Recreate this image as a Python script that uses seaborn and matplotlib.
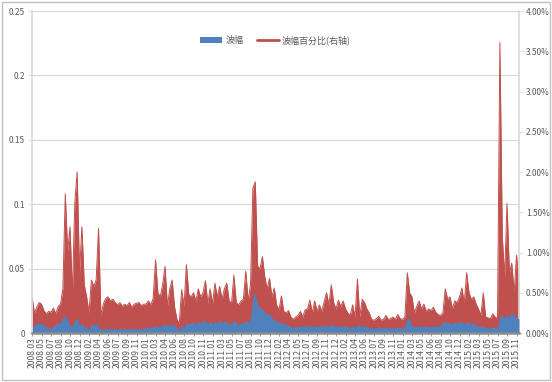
import numpy as np
import pandas as pd
import matplotlib
matplotlib.use("Agg")
import matplotlib.pyplot as plt
import seaborn as sns
from matplotlib.patches import Patch, Rectangle
from matplotlib.lines import Line2D
from matplotlib.ticker import FuncFormatter

# Tick labels on the category axis
month_labels = [
    "2008.03", "2008.05", "2008.07", "2008.08", "2008.10", "2008.12",
    "2009.02", "2009.04", "2009.06", "2009.07", "2009.09", "2009.11",
    "2010.01", "2010.03", "2010.04", "2010.06", "2010.08", "2010.10",
    "2010.11", "2011.01", "2011.03", "2011.05", "2011.07", "2011.08",
    "2011.10", "2011.12", "2012.02", "2012.04", "2012.05", "2012.07",
    "2012.09", "2012.11", "2012.12", "2013.02", "2013.04", "2013.06",
    "2013.07", "2013.09", "2013.11", "2014.01", "2014.03", "2014.05",
    "2014.06", "2014.08", "2014.10", "2014.12", "2015.02", "2015.03",
    "2015.05", "2015.07", "2015.09", "2015.11",
]

# 波幅百分比 (%)
pct_2008 = [0.45, 0.25, 0.32, 0.38, 0.36, 0.28, 0.24, 0.27, 0.26, 0.31, 0.24, 0.33,
            0.36, 0.55, 1.73, 1.02, 1.32, 0.48, 1.61, 2.00, 0.75, 1.32, 0.60, 0.45]
pct_2009 = [0.25, 0.66, 0.58, 0.66, 1.30, 0.22, 0.36, 0.43, 0.45, 0.40, 0.42, 0.38,
            0.35, 0.38, 0.33, 0.36, 0.34, 0.38, 0.32, 0.36, 0.37, 0.38, 0.34, 0.36]
pct_2010 = [0.36, 0.40, 0.35, 0.43, 0.91, 0.50, 0.45, 0.60, 0.83, 0.33, 0.55, 0.66,
            0.33, 0.17, 0.12, 0.54, 0.33, 0.85, 0.48, 0.45, 0.50, 0.40, 0.55, 0.45,
            0.50, 0.65, 0.37, 0.55]
pct_2011 = [0.36, 0.62, 0.45, 0.58, 0.42, 0.55, 0.62, 0.40, 0.37, 0.72, 0.38, 0.35,
            0.40, 0.42, 0.77, 0.40, 0.60, 1.80, 1.88, 0.83, 0.80, 0.95, 0.70, 0.55,
            0.68, 0.45, 0.56, 0.35]
pct_2012 = [0.29, 0.46, 0.27, 0.25, 0.28, 0.20, 0.17, 0.20, 0.22, 0.27, 0.20, 0.29,
            0.30, 0.41, 0.25, 0.40, 0.27, 0.35, 0.27, 0.39, 0.50, 0.35, 0.60, 0.38,
            0.30, 0.41, 0.33, 0.40]
pct_2013 = [0.30, 0.25, 0.22, 0.35, 0.20, 0.67, 0.20, 0.42, 0.38, 0.30, 0.25, 0.17,
            0.16, 0.18, 0.21, 0.16, 0.17, 0.22, 0.17, 0.18, 0.20, 0.17, 0.23, 0.18]
pct_2014 = [0.17, 0.20, 0.75, 0.50, 0.45, 0.25, 0.33, 0.40, 0.30, 0.36, 0.27, 0.30,
            0.28, 0.32, 0.26, 0.23, 0.22, 0.25, 0.55, 0.42, 0.45, 0.30, 0.40, 0.38,
            0.45, 0.56, 0.37, 0.75]
pct_2015 = [0.50, 0.42, 0.45, 0.36, 0.30, 0.22, 0.50, 0.20, 0.19, 0.18, 0.24, 0.20,
            0.18, 3.61, 1.20, 0.70, 1.61, 0.75, 0.87, 0.50, 0.97, 0.62]

# 波幅
amp_2008 = [0.004, 0.006, 0.008, 0.007, 0.008, 0.006, 0.005, 0.004, 0.004, 0.005, 0.007, 0.008,
            0.008, 0.012, 0.014, 0.010, 0.006, 0.005, 0.010, 0.012, 0.006, 0.008, 0.005, 0.004]
amp_2009 = [0.003, 0.007, 0.006, 0.008, 0.005, 0.003, 0.003, 0.004, 0.003, 0.004, 0.003, 0.004,
            0.003, 0.004, 0.003, 0.004, 0.003, 0.004, 0.003, 0.004, 0.003, 0.004, 0.003, 0.004]
amp_2010 = [0.004, 0.005, 0.004, 0.005, 0.006, 0.005, 0.005, 0.006, 0.007, 0.006, 0.006, 0.007,
            0.006, 0.004, 0.003, 0.006, 0.005, 0.008, 0.007, 0.008, 0.008, 0.007, 0.009, 0.008,
            0.009, 0.010, 0.007, 0.009]
amp_2011 = [0.007, 0.009, 0.008, 0.010, 0.008, 0.009, 0.009, 0.007, 0.007, 0.010, 0.008, 0.007,
            0.008, 0.008, 0.010, 0.008, 0.012, 0.028, 0.031, 0.022, 0.020, 0.018, 0.016, 0.015,
            0.015, 0.012, 0.010, 0.009]
amp_2012 = [0.008, 0.009, 0.007, 0.007, 0.006, 0.005, 0.004, 0.005, 0.005, 0.006, 0.005, 0.006,
            0.005, 0.006, 0.005, 0.006, 0.005, 0.006, 0.005, 0.006, 0.006, 0.005, 0.007, 0.006,
            0.005, 0.006, 0.005, 0.006]
amp_2013 = [0.005, 0.005, 0.004, 0.006, 0.004, 0.007, 0.005, 0.006, 0.005, 0.005, 0.004, 0.004,
            0.004, 0.004, 0.005, 0.004, 0.004, 0.005, 0.004, 0.004, 0.004, 0.004, 0.005, 0.004]
amp_2014 = [0.004, 0.005, 0.013, 0.010, 0.006, 0.005, 0.005, 0.006, 0.005, 0.006, 0.005, 0.005,
            0.005, 0.006, 0.005, 0.005, 0.007, 0.008, 0.009, 0.008, 0.008, 0.007, 0.009, 0.008,
            0.009, 0.008, 0.007, 0.009]
amp_2015 = [0.008, 0.007, 0.008, 0.006, 0.005, 0.005, 0.006, 0.004, 0.004, 0.004, 0.005, 0.004,
            0.004, 0.014, 0.013, 0.012, 0.014, 0.013, 0.016, 0.014, 0.012, 0.011]

pct = pct_2008 + pct_2009 + pct_2010 + pct_2011 + pct_2012 + pct_2013 + pct_2014 + pct_2015
amp = amp_2008 + amp_2009 + amp_2010 + amp_2011 + amp_2012 + amp_2013 + amp_2014 + amp_2015

# spread the readings over the category axis (one unit per label step)
span = 51.25
df = pd.DataFrame({
    "pos": np.linspace(0, span, len(pct)),
    "pct": np.array(pct) / 100,
    "amp": amp,
})

sns.set_theme(style="white")
plt.rcParams["font.family"] = ["Noto Sans CJK SC", "DejaVu Sans"]

blue = "#4f81bd"
red = "#c0504d"
tick_col = "#595959"
grid_col = "#d9d9d9"

fig = plt.figure(figsize=(5.52, 3.82), dpi=100)
ax = fig.add_axes([0.058, 0.128, 0.882, 0.843])
ax2 = ax.twinx()

# red series on the right axis, behind the blue area
ax2.fill_between(df["pos"], 0, df["pct"], color=red, linewidth=0)
sns.lineplot(data=df, x="pos", y="pct", ax=ax2, color=red, linewidth=0.7, zorder=2)

ax.set_zorder(ax2.get_zorder() + 1)
ax.patch.set_visible(False)
ax.fill_between(df["pos"], 0, df["amp"], color=blue, linewidth=0)

ax.set_xlim(0, span)
ax.set_ylim(0, 0.25)
ax2.set_ylim(0, 0.04)
ax.set_yticks([0, 0.05, 0.1, 0.15, 0.2, 0.25])
ax.set_yticklabels(["0", "0.05", "0.1", "0.15", "0.2", "0.25"])
ax2.set_yticks(np.arange(0, 0.0401, 0.005))
ax2.yaxis.set_major_formatter(FuncFormatter(lambda v, p: f"{v * 100:.2f}%"))

# gridlines drawn behind everything
for v in [0.05, 0.1, 0.15, 0.2, 0.25]:
    ax2.axhline(v / 0.25 * 0.04, color=grid_col, linewidth=0.9, zorder=0)

ax.set_xticks(range(len(month_labels)))
ax.set_xticklabels(month_labels, rotation=90)
ax.set_xlabel("")
ax.set_ylabel("")
ax2.set_xlabel("")
ax2.set_ylabel("")

for a in (ax, ax2):
    for s in a.spines.values():
        s.set_visible(False)
ax.spines["left"].set_visible(True)
ax.spines["left"].set_color(grid_col)
ax2.spines["right"].set_visible(True)
ax2.spines["right"].set_color(grid_col)
ax.spines["bottom"].set_visible(True)
ax.spines["bottom"].set_color("#8c8c8c")
ax.spines["bottom"].set_linewidth(1.8)

ax.tick_params(axis="x", labelsize=6.2, colors=tick_col, length=2, width=0.6, pad=1, bottom=True, color="#8c8c8c")
ax.tick_params(axis="y", labelsize=6, colors=tick_col, length=3, width=0.6, pad=2, left=True, color=grid_col)
ax2.tick_params(axis="y", labelsize=6, colors=tick_col, length=3, width=0.6, pad=2, right=True, color=grid_col)

handles = [Patch(facecolor=blue, edgecolor="none"), Line2D([0], [0], color=red, linewidth=2)]
ax.legend(handles, ["波幅", "波幅百分比(右轴)"], loc="upper center", bbox_to_anchor=(0.5, 0.95),
          ncol=2, frameon=False, fontsize=6.5, labelcolor=tick_col,
          handlelength=2.5, handleheight=0.6, columnspacing=1.5, handletextpad=0.3)

# outer chart border
fig.patches.append(Rectangle((0.003, 0.004), 0.994, 0.992, transform=fig.transFigure,
                             fill=False, edgecolor="#bfbfbf", linewidth=1))

fig.savefig("out.png", dpi=100)
